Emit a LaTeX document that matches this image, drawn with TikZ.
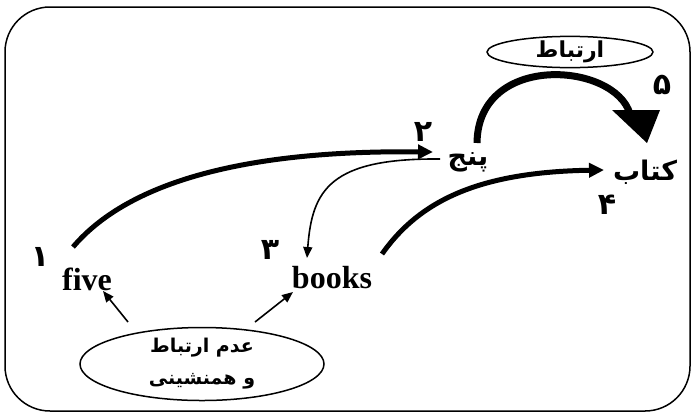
\documentclass[tikz,border=0pt]{standalone}
\usepackage{fontspec}
\setmainfont{Liberation Serif}
\newfontfamily\arabicfont[Script=Arabic]{DejaVu Sans}
\TeXXeTstate=1
\usetikzlibrary{shapes.geometric,arrows.meta}
\begin{document}
\begin{tikzpicture}[x=1pt,y=-1pt,
  en/.style={font=\fontsize{32}{36}\selectfont\bfseries, anchor=base, inner sep=0pt},
  fa/.style={font=\fontsize{27}{30}\selectfont\arabicfont\bfseries, inner sep=0pt},
  num/.style={font=\fontsize{30}{32}\selectfont\arabicfont\bfseries, inner sep=0pt},
  oval/.style={draw, ellipse, line width=1.5pt, inner sep=0pt},
  thickarrow/.style={line width=5pt, -{Triangle[length=15pt,width=14pt]}},
  thinarrow/.style={line width=1.6pt, -{Triangle[length=11pt,width=9pt]}},
  hugeline/.style={line width=7pt},
  hugehead/.style={fill=black}]
\useasboundingbox (0,0) rectangle (692,413);
\draw[line width=1.5pt, rounded corners=45pt] (5,7) rectangle (690,411);

% word nodes
\node[en] (five) at (87,290) {five};
\node[en] (books) at (332,288) {books};
\node[fa] (panj) at (468,162) {\beginR پنج\endR};
\node[fa] (ketab) at (645,172) {\beginR کتاب\endR};

% ovals
\node[oval, minimum width=166pt, minimum height=31pt, font=\fontsize{22}{24}\selectfont\arabicfont\bfseries] (rel) at (570,52) {\beginR ارتباط\endR};
\node[oval, minimum width=244pt, minimum height=73pt, align=center,
  font=\fontsize{19}{32}\selectfont\arabicfont\bfseries] (norel) at (202,364)
  {\beginR عدم ارتباط\endR\\\beginR و همنشینی\endR};

% numbers
\node[num] (n1) at (40,257) {۱};
\node[num] (n2) at (423,132) {۲};
\node[num] (n3) at (270,250) {۳};
\node[num] (n4) at (607,205) {۴};
\node[num] (n5) at (662,85) {۵};

% connector end points
\coordinate (fiveout) at (73,247);
\coordinate (panjin) at (433,152);
\coordinate (panjout) at (440,159);
\coordinate (booksin) at (307,258);
\coordinate (booksout) at (382,254);
\coordinate (ketabin) at (604,170);
\coordinate (panjtop) at (477,143);
\coordinate (headbase) at (630,114);
\coordinate (headleft) at (612,110);
\coordinate (headright) at (660,110);
\coordinate (ketabtop) at (647,143);
\coordinate (normid1) at (128,322);
\coordinate (fivein) at (103,291);
\coordinate (normid2) at (255,322);
\coordinate (booksin2) at (293,292);

% connectors
\draw[thickarrow] (fiveout) .. controls (130,180) and (250,150) .. (panjin);
\draw[thickarrow] (booksout) .. controls (420,200) and (480,172) .. (ketabin);
\draw[thinarrow] (panjout) .. controls (330,158) and (312,190) .. (booksin);
\draw[hugeline] (panjtop) .. controls (478,52) and (615,62) .. (headbase);
\fill[hugehead] (headleft) -- (headright) -- (ketabtop) -- cycle;
\draw[thinarrow] (normid1) -- (fivein);
\draw[thinarrow] (normid2) -- (booksin2);
\end{tikzpicture}
\end{document}
